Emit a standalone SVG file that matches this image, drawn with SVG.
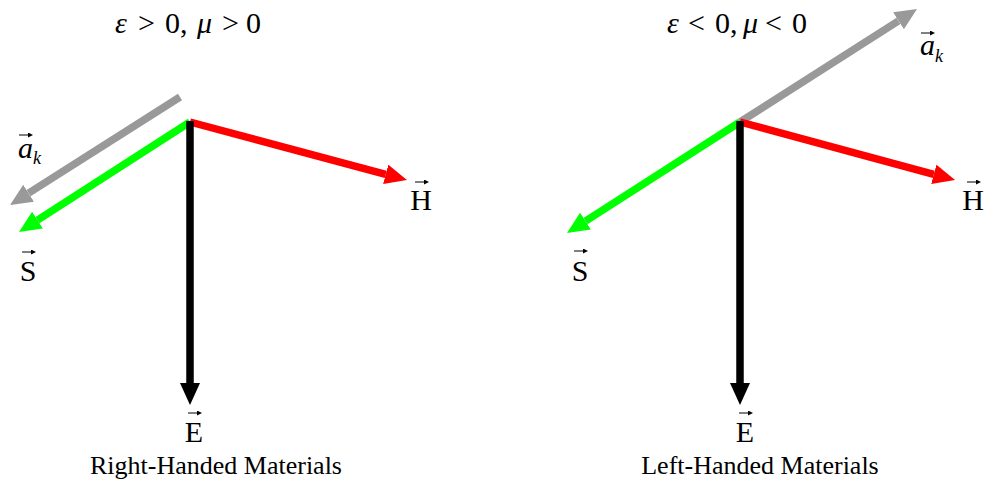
<svg xmlns="http://www.w3.org/2000/svg" width="984" height="481" viewBox="0 0 984 481">
<style>
.lbl{font-family:"Liberation Serif","Times New Roman",serif;font-size:30px;fill:#000}
.ttl{font-family:"Liberation Serif","Times New Roman",serif;font-size:30px;fill:#000}
.it{font-style:italic}
.cap{font-family:"Liberation Serif","Times New Roman",serif;font-size:26px;fill:#000}
.vec{stroke:#000;stroke-width:1;fill:none}
.v{fill:none;stroke-width:7.5;stroke-linecap:butt}
</style>
<defs>
<marker id="hk" viewBox="0 0 22 20" refX="0" refY="10" markerWidth="22" markerHeight="20" markerUnits="userSpaceOnUse" orient="auto"><path d="M0,0 L22,10 L0,20 Z" fill="#000"/></marker>
<marker id="hr" viewBox="0 0 22 20" refX="0" refY="10" markerWidth="22" markerHeight="20" markerUnits="userSpaceOnUse" orient="auto"><path d="M0,0 L22,10 L0,20 Z" fill="#ff0000"/></marker>
<marker id="hg" viewBox="0 0 22 20" refX="0" refY="10" markerWidth="22" markerHeight="20" markerUnits="userSpaceOnUse" orient="auto"><path d="M0,0 L22,10 L0,20 Z" fill="#00ff00"/></marker>
<marker id="hy" viewBox="0 0 22 20" refX="0" refY="10" markerWidth="22" markerHeight="20" markerUnits="userSpaceOnUse" orient="auto"><path d="M0,0 L22,10 L0,20 Z" fill="#999999"/></marker>
<marker id="sm" viewBox="0 0 6 6" refX="0" refY="3" markerWidth="5" markerHeight="5" markerUnits="userSpaceOnUse" orient="auto"><path d="M0,0 L6,3 L0,6 Z" fill="#000"/></marker>
</defs>

<g id="connectors">
  <line class="v" x1="180" y1="97" x2="28.6" y2="193.2" stroke="#999999" marker-end="url(#hy)"/>
  <line class="v" x1="190" y1="122" x2="37.5" y2="220.1" stroke="#00ff00" marker-end="url(#hg)"/>
  <line class="v" x1="190" y1="122" x2="385.7" y2="174.3" stroke="#ff0000" marker-end="url(#hr)"/>
  <line class="v" x1="190" y1="121" x2="190" y2="383" stroke="#000" marker-end="url(#hk)"/>
  <line class="v" x1="740" y1="122" x2="898.5" y2="20.8" stroke="#999999" marker-end="url(#hy)"/>
  <line class="v" x1="740" y1="122" x2="585.5" y2="221.1" stroke="#00ff00" marker-end="url(#hg)"/>
  <line class="v" x1="740" y1="122" x2="933.8" y2="174.3" stroke="#ff0000" marker-end="url(#hr)"/>
  <line class="v" x1="740" y1="121" x2="740" y2="383" stroke="#000" marker-end="url(#hk)"/>
</g>

<g id="left-title">
  <text class="ttl" y="33"><tspan class="it" x="115">ε</tspan><tspan x="138">&gt;</tspan><tspan x="165">0,</tspan><tspan class="it" x="197">μ</tspan><tspan x="222">&gt;</tspan><tspan x="246">0</tspan></text>
</g>
<g id="left-ak">
  <text class="lbl it" x="18" y="158">a</text>
  <text class="lbl it" x="33" y="164" style="font-size:18px">k</text>
  <line class="vec" x1="19" y1="135" x2="28" y2="135" marker-end="url(#sm)"/>
</g>
<g id="left-S">
  <text class="lbl" x="28" y="281" text-anchor="middle">S</text>
  <line class="vec" x1="22" y1="252" x2="31" y2="252" marker-end="url(#sm)"/>
</g>
<g id="left-H">
  <text class="lbl" x="421" y="210" text-anchor="middle">H</text>
  <line class="vec" x1="415" y1="182" x2="424" y2="182" marker-end="url(#sm)"/>
</g>
<g id="left-E">
  <text class="lbl" x="194" y="442" text-anchor="middle">E</text>
  <line class="vec" x1="188" y1="413" x2="197" y2="413" marker-end="url(#sm)"/>
</g>
<g id="left-caption">
  <text class="cap" x="216" y="474" text-anchor="middle">Right-Handed Materials</text>
</g>

<g id="right-title">
  <text class="ttl" y="33"><tspan class="it" x="667">ε</tspan><tspan x="688">&lt;</tspan><tspan x="715">0,</tspan><tspan class="it" x="743">μ</tspan><tspan x="765">&lt;</tspan><tspan x="792">0</tspan></text>
</g>
<g id="right-ak">
  <text class="lbl it" x="920" y="55">a</text>
  <text class="lbl it" x="935" y="62" style="font-size:18px">k</text>
  <line class="vec" x1="921" y1="33" x2="930" y2="33" marker-end="url(#sm)"/>
</g>
<g id="right-S">
  <text class="lbl" x="580" y="281" text-anchor="middle">S</text>
  <line class="vec" x1="574" y1="251" x2="583" y2="251" marker-end="url(#sm)"/>
</g>
<g id="right-H">
  <text class="lbl" x="973" y="210" text-anchor="middle">H</text>
  <line class="vec" x1="967" y1="182" x2="976" y2="182" marker-end="url(#sm)"/>
</g>
<g id="right-E">
  <text class="lbl" x="745" y="442" text-anchor="middle">E</text>
  <line class="vec" x1="739" y1="413" x2="748" y2="413" marker-end="url(#sm)"/>
</g>
<g id="right-caption">
  <text class="cap" x="760" y="474" text-anchor="middle">Left-Handed Materials</text>
</g>
</svg>
